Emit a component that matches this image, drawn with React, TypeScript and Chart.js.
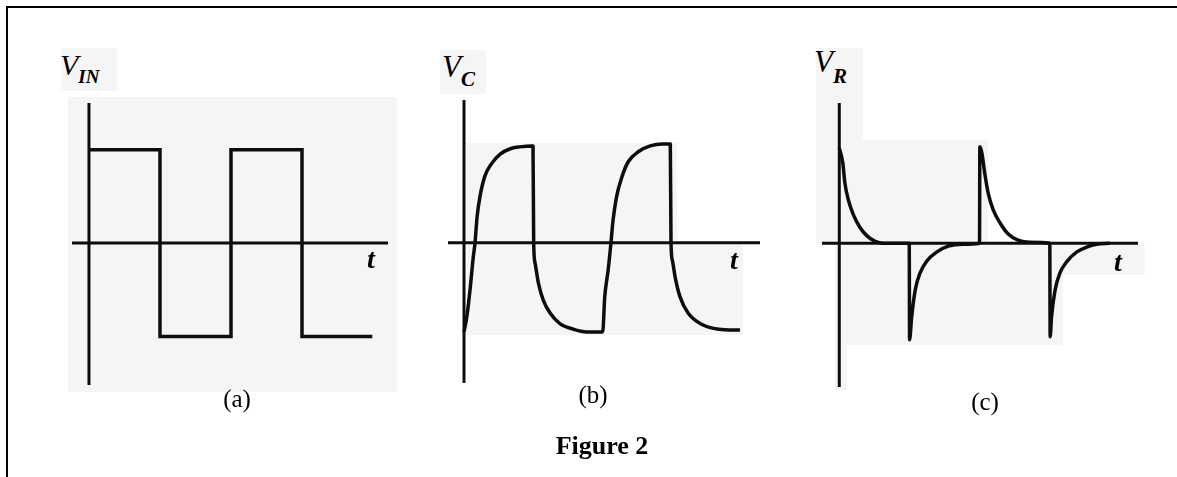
import React, { useEffect, useRef } from "react";
import { Chart, registerables } from "chart.js";

Chart.register(...registerables);

// ---------- Data ----------
// (a) input square wave, time in half-periods, voltage in units of the amplitude
const vinT = [0, 1, 1, 2, 2, 3, 3, 3.99];
const vinV = [1, 1, -1, -1, 1, 1, -1, -1];

// (b) capacitor voltage
const vcT = [
  0.0, 0.04, 0.087, 0.135, 0.16, 0.19, 0.23, 0.3, 0.4, 0.52, 0.67, 0.81, 0.98,
  1.0, 1.01, 1.03, 1.08, 1.15, 1.25, 1.39, 1.58, 1.78, 2.0,
  2.01, 2.04, 2.09, 2.13, 2.16, 2.21, 2.29, 2.38, 2.53, 2.7, 2.87, 2.97,
  2.99, 3.0, 3.02, 3.06, 3.13, 3.25, 3.45, 3.69, 4.0,
];
const vcV = [
  -0.96, -0.8, -0.51, -0.15, 0, 0.28, 0.49, 0.71, 0.85, 0.95, 1.01, 1.03, 1.04,
  1.04, -0.01, -0.22, -0.44, -0.62, -0.76, -0.87, -0.93, -0.96, -0.96,
  -0.96, -0.58, -0.29, 0, 0.24, 0.49, 0.71, 0.87, 0.98, 1.04, 1.06, 1.06,
  1.06, 0, -0.19, -0.37, -0.58, -0.76, -0.88, -0.93, -0.94,
];

// (c) resistor voltage
const vrT = [
  0.0, 0.05, 0.08, 0.13, 0.2, 0.29, 0.39, 0.51, 0.63, 0.995,
  1.0, 1.03, 1.08, 1.15, 1.24, 1.39, 1.55, 1.76, 1.995,
  2.0, 2.03, 2.07, 2.12, 2.19, 2.29, 2.4, 2.55, 2.71, 2.995,
  3.0, 3.02, 3.07, 3.14, 3.24, 3.38, 3.52, 3.66, 3.85,
];
const vrV = [
  1.0, 0.84, 0.63, 0.45, 0.3, 0.17, 0.08, 0.02, 0, 0,
  -1.01, -0.77, -0.49, -0.31, -0.19, -0.09, -0.03, -0.01, 0,
  1.01, 0.94, 0.73, 0.52, 0.35, 0.21, 0.1, 0.03, 0.01, 0,
  -0.98, -0.77, -0.49, -0.31, -0.19, -0.09, -0.04, -0.01, 0,
];

// axis ranges (data units) for each panel
const aXRange = [-0.239, 4.211];
const aYRange = [-1.52, 1.5];
const bXRange = [-0.232, 4.29];
const bYRange = [-1.509, 1.534];
const cXRange = [-0.246, 4.25];
const cYRange = [-1.505, 1.469];

const SERIF = "'Liberation Serif', 'Times New Roman', serif";
const INK = "#0d0d0d";

type Box = { l: number; t: number; w: number; h: number };

function zip(t: number[], v: number[]) {
  return t.map((x, i) => ({ x, y: v[i] }));
}

function Plot(props: {
  box: Box;
  xr: number[];
  yr: number[];
  t: number[];
  v: number[];
  smooth: boolean;
}) {
  const ref = useRef<HTMLCanvasElement>(null);
  const PAD = 4;
  const { box, xr, yr, t, v, smooth } = props;
  useEffect(() => {
    if (!ref.current) return;
    const chart = new Chart(ref.current, {
      type: "line",
      data: {
        datasets: [
          {
            data: [
              { x: xr[0], y: 0 },
              { x: xr[1], y: 0 },
            ],
            borderColor: INK,
            borderWidth: 3,
            pointRadius: 0,
            clip: false,
          } as any,
          {
            data: [
              { x: 0, y: yr[0] },
              { x: 0, y: yr[1] },
            ],
            borderColor: INK,
            borderWidth: 3,
            pointRadius: 0,
            clip: false,
          } as any,
          {
            data: zip(t, v),
            borderColor: INK,
            borderWidth: 3.5,
            pointRadius: 0,
            clip: false,
            tension: 0,
            cubicInterpolationMode: smooth ? "monotone" : "default",
            borderJoinStyle: smooth ? "round" : "miter",
          } as any,
        ],
      },
      options: {
        responsive: false,
        maintainAspectRatio: false,
        animation: false,
        events: [],
        layout: { padding: PAD },
        plugins: {
          legend: { display: false },
          tooltip: { enabled: false },
          title: { display: false },
        },
        scales: {
          x: { type: "linear", display: false, min: xr[0], max: xr[1] },
          y: { type: "linear", display: false, min: yr[0], max: yr[1] },
        },
      },
    });
    return () => chart.destroy();
  }, []);
  return (
    <canvas
      ref={ref}
      width={box.w + 2 * PAD}
      height={box.h + 2 * PAD}
      style={{ position: "absolute", left: box.l - PAD, top: box.t - PAD }}
    />
  );
}

function Txt(props: {
  x: number;
  base: number;
  size: number;
  center?: boolean;
  italic?: boolean;
  bold?: boolean;
  children: React.ReactNode;
}) {
  const { x, base, size, center, italic, bold } = props;
  return (
    <span
      style={{
        position: "absolute",
        left: x,
        top: base - 0.8375 * size,
        fontFamily: SERIF,
        fontSize: size,
        lineHeight: 1,
        fontStyle: italic ? "italic" : "normal",
        fontWeight: bold ? "bold" : "normal",
        whiteSpace: "nowrap",
        transform: center ? "translateX(-50%)" : undefined,
        color: "#000",
      }}
    >
      {props.children}
    </span>
  );
}

function VLabel(props: { x: number; base: number; size: number; sub: string; subSize: number; drop: number }) {
  const { x, base, size, sub, subSize, drop } = props;
  return (
    <Txt x={x} base={base} size={size} italic>
      V
      <span style={{ fontSize: subSize, position: "relative", top: drop, fontWeight: 600 }}>{sub}</span>
    </Txt>
  );
}

const patches: Box[] = [
  { l: 61, t: 48, w: 56, h: 43 },
  { l: 68, t: 97, w: 329, h: 295 },
  { l: 440, t: 50, w: 46, h: 44 },
  { l: 467, t: 143, w: 210, h: 192 },
  { l: 677, t: 243, w: 66, h: 92 },
  { l: 816, t: 48, w: 47, h: 92 },
  { l: 816, t: 140, w: 172, h: 103 },
  { l: 835, t: 243, w: 228, h: 102 },
  { l: 1063, t: 245, w: 82, h: 30 },
  { l: 835, t: 345, w: 12, h: 45 },
];

export default function App() {
  return (
    <div
      style={{
        position: "fixed",
        left: 0,
        top: 0,
        width: 1177,
        height: 477,
        background: "#fff",
        overflow: "hidden",
      }}
    >
      {patches.map((p, i) => (
        <div
          key={i}
          style={{ position: "absolute", left: p.l, top: p.t, width: p.w, height: p.h, background: "#f5f5f5" }}
        />
      ))}
      {/* frame */}
      <div style={{ position: "absolute", left: 6, top: 5.5, width: 1171, height: 2.5, background: "#000" }} />
      <div style={{ position: "absolute", left: 6, top: 5.5, width: 2, height: 472, background: "#000" }} />

      <Plot box={{ l: 72, t: 103, w: 316, h: 282 }} xr={aXRange} yr={aYRange} t={vinT} v={vinV} smooth={false} />
      <Plot box={{ l: 448, t: 100, w: 312, h: 283 }} xr={bXRange} yr={bYRange} t={vcT} v={vcV} smooth={true} />
      <Plot box={{ l: 822, t: 103, w: 316, h: 284 }} xr={cXRange} yr={cYRange} t={vrT} v={vrV} smooth={true} />

      <VLabel x={60} base={75} size={30} sub="IN" subSize={19} drop={8} />
      <VLabel x={442} base={77} size={31} sub="C" subSize={21} drop={9} />
      <VLabel x={814} base={72} size={31} sub="R" subSize={21} drop={11} />

      <Txt x={367} base={268} size={28} italic bold>t</Txt>
      <Txt x={730} base={269} size={28} italic bold>t</Txt>
      <Txt x={1114} base={271} size={28} italic bold>t</Txt>

      <Txt x={237} base={407} size={25} center>(a)</Txt>
      <Txt x={593} base={403} size={25} center>(b)</Txt>
      <Txt x={985} base={410} size={25} center>(c)</Txt>

      <Txt x={602} base={455} size={26} center bold>Figure 2</Txt>
    </div>
  );
}
